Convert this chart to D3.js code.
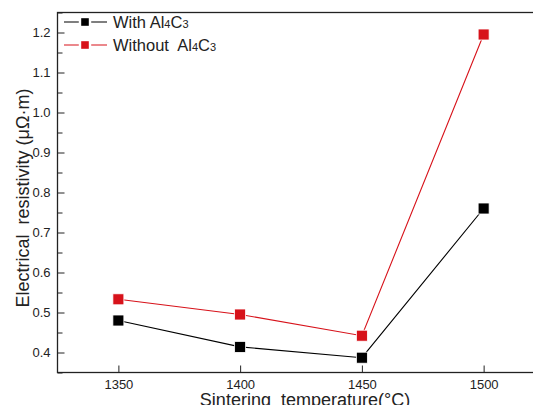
<!DOCTYPE html>
<html><head><meta charset="utf-8">
<script src="https://cdn.jsdelivr.net/npm/d3@7"></script>
<style>body{margin:0;background:#fff;overflow:hidden}svg{display:block}text{font-family:"Liberation Sans",Arial,sans-serif}</style>
</head><body>
<svg id="c" width="533" height="405"></svg>
<script>
const temps = [1350, 1400, 1450, 1500];
const withAl4C3 = [0.480, 0.414, 0.387, 0.760];
const withoutAl4C3 = [0.533, 0.495, 0.442, 1.195];
const yTicks = [0.4, 0.5, 0.6, 0.7, 0.8, 0.9, 1.0, 1.1, 1.2];
const xTicks = [1350, 1400, 1450, 1500];
const seriesNames = ["With Al4C3", "Without  Al4C3"];
const seriesColors = ["#000000", "#d7121a"];

const svg = d3.select("#c");
const m = {l: 57.5, t: 12.5, b: 372.5};
const x = d3.scaleLinear().domain([1325, 1525]).range([m.l, m.l + 487]);
const y = d3.scaleLinear().domain([0.35, 1.25]).range([m.b, m.t]);

// frame
svg.append("rect").attr("x", m.l).attr("y", m.t).attr("width", 487).attr("height", m.b - m.t)
  .attr("fill", "none").attr("stroke", "#222").attr("stroke-width", 1.3);

// y axis (inward ticks)
const yMinor = d3.range(0.35, 1.26, 0.1).map(v => +v.toFixed(2));
svg.append("g").attr("transform", `translate(${m.l},0)`)
  .call(d3.axisRight(y).tickValues(yMinor).tickSize(5).tickFormat(""))
  .call(g => { g.select(".domain").remove(); g.selectAll("line").attr("stroke", "#222"); });
const ya = svg.append("g").attr("transform", `translate(${m.l},0)`)
  .call(d3.axisRight(y).tickValues(yTicks).tickSize(7).tickFormat(d3.format(".1f")));
ya.select(".domain").remove();
ya.selectAll("line").attr("stroke", "#222");
ya.selectAll("text").attr("x", -7).attr("text-anchor", "end").attr("font-size", 13).attr("fill", "#222")
  .attr("font-family", "Liberation Sans, Arial, sans-serif");

// x axis
const xa = svg.append("g").attr("transform", `translate(0,${m.b})`)
  .call(d3.axisTop(x).tickValues(xTicks).tickSize(7).tickFormat(d3.format("d")));
xa.select(".domain").remove();
xa.selectAll("line").attr("stroke", "#222");
xa.selectAll("text").attr("y", 16).attr("dy", 0).attr("font-size", 13).attr("fill", "#222")
  .attr("font-family", "Liberation Sans, Arial, sans-serif");

// titles
svg.append("text").attr("x", 305).attr("y", 406).attr("text-anchor", "middle")
  .attr("font-size", 18).attr("fill", "#222").attr("xml:space", "preserve")
  .text("Sintering  temperature(°C)");
svg.append("text").attr("transform", "translate(29,198) rotate(-90)").attr("text-anchor", "middle")
  .attr("font-size", 18).attr("fill", "#222").attr("xml:space", "preserve")
  .text("Electrical  resistivity (μΩ·m)");

// series
const data = [withAl4C3, withoutAl4C3];
const line = d3.line().x((d, i) => x(temps[i])).y(d => y(d));
data.forEach((vals, s) => {
  svg.append("path").datum(vals).attr("d", line).attr("fill", "none")
    .attr("stroke", seriesColors[s]).attr("stroke-width", 1.1);
  svg.selectAll(null).data(vals).enter().append("rect")
    .attr("x", (d, i) => x(temps[i]) - 5.5).attr("y", d => y(d) - 5.5)
    .attr("width", 11).attr("height", 11)
    .attr("fill", seriesColors[s]).attr("stroke", "#fff").attr("stroke-width", 0.8);
});

// legend
const leg = svg.append("g");
[0, 1].forEach(s => {
  const ly = 22 + s * 23;
  leg.append("line").attr("x1", 64).attr("x2", 107).attr("y1", ly).attr("y2", ly)
    .attr("stroke", seriesColors[s]).attr("stroke-width", 1.1);
  leg.append("rect").attr("x", 80).attr("y", ly - 5).attr("width", 10).attr("height", 10)
    .attr("fill", seriesColors[s]).attr("stroke", "#fff").attr("stroke-width", 2.4);
  const t = leg.append("text").attr("x", 113).attr("y", ly + 6).attr("font-size", 16.5).attr("fill", "#222")
    .attr("xml:space", "preserve");
  const base = seriesNames[s].replace("Al4C3", "");
  t.append("tspan").text(base + "Al");
  t.append("tspan").attr("font-size", 11).text("4");
  t.append("tspan").text("C");
  t.append("tspan").attr("font-size", 11).text("3");
});
</script>
</body></html>
